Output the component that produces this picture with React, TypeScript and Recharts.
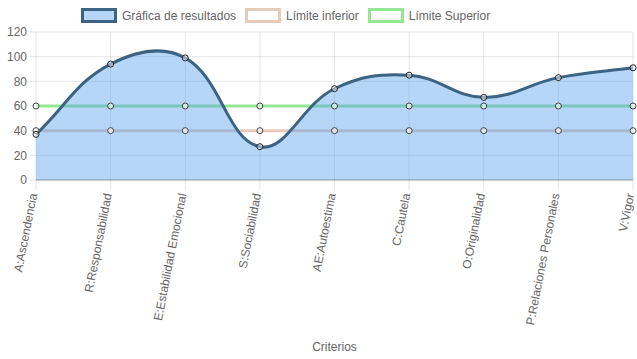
import { Area, CartesianGrid, ComposedChart, XAxis, YAxis } from "recharts";

const CATEGORIES = [
  "A:Ascendencia",
  "R:Responsabilidad",
  "E:Estabilidad Emocional",
  "S:Sociabilidad",
  "AE:Autoestima",
  "C:Cautela",
  "O:Originalidad",
  "P:Relaciones Personales",
  "V:Vigor",
];
const RESULTADOS = [37, 94, 99, 27, 74, 85, 67, 83, 91];
const LIMITE_INFERIOR = [40, 40, 40, 40, 40, 40, 40, 40, 40];
const LIMITE_SUPERIOR = [60, 60, 60, 60, 60, 60, 60, 60, 60];
const Y_TICKS = [0, 20, 40, 60, 80, 100, 120];

const FONT = '"Liberation Sans", Arial, Helvetica, sans-serif';
const TEXT = "#666";
const GRID = "rgba(0,0,0,0.1)";

const chartData = CATEGORIES.map((c, i) => ({
  criterio: c,
  resultado: RESULTADOS[i],
  inferior: LIMITE_INFERIOR[i],
  superior: LIMITE_SUPERIOR[i],
}));

const LEGEND = [
  { label: "Gráfica de resultados", fill: "rgba(91,164,236,0.45)", border: "#3d6383" },
  { label: "Límite inferior", fill: "#fff", border: "#e6cbbd" },
  { label: "Límite Superior", fill: "#fff", border: "#93e693" },
];

// chart.js style bezier (tension 0.4), so the curve overshoots like the original
function splineCurve(context: any) {
  let line = NaN;
  let pts: [number, number][] = [];
  const t = 0.4;
  return {
    areaStart() {
      line = 0;
    },
    areaEnd() {
      line = NaN;
    },
    lineStart() {
      pts = [];
    },
    point(x: number, y: number) {
      pts.push([+x, +y]);
    },
    lineEnd() {
      const n = pts.length;
      if (n) {
        if (line) context.lineTo(pts[0][0], pts[0][1]);
        else context.moveTo(pts[0][0], pts[0][1]);
        const cps = pts.map((p, i) => {
          const prev = pts[i - 1] ?? p;
          const next = pts[i + 1] ?? p;
          const d01 = Math.hypot(p[0] - prev[0], p[1] - prev[1]);
          const d12 = Math.hypot(next[0] - p[0], next[1] - p[1]);
          let s01 = d01 / (d01 + d12);
          let s12 = d12 / (d01 + d12);
          if (!isFinite(s01)) s01 = 0;
          if (!isFinite(s12)) s12 = 0;
          const fa = t * s01;
          const fb = t * s12;
          return {
            inX: p[0] - fa * (next[0] - prev[0]),
            inY: p[1] - fa * (next[1] - prev[1]),
            outX: p[0] + fb * (next[0] - prev[0]),
            outY: p[1] + fb * (next[1] - prev[1]),
          };
        });
        for (let i = 1; i < n; i++) {
          context.bezierCurveTo(cps[i - 1].outX, cps[i - 1].outY, cps[i].inX, cps[i].inY, pts[i][0], pts[i][1]);
        }
      }
      if (line || (line !== 0 && n === 1)) context.closePath();
      line = 1 - line;
    },
  };
}

function RotatedTick({ x, y, payload }: any) {
  return (
    <g transform={`translate(${x},${y + 2})`}>
      <text
        transform="rotate(-79)"
        textAnchor="end"
        dy="0.1em"
        fill={TEXT}
        fontSize={12}
        fontFamily={FONT}
      >
        {payload.value}
      </text>
    </g>
  );
}

const limitDot = { r: 3, fill: "#fff", stroke: "#444", strokeWidth: 1 };

export default function App() {
  return (
    <div style={{ position: "absolute", left: 0, top: 0, width: 637, height: 359, background: "#fff" }}>
      <div
        style={{
          position: "absolute",
          left: 81,
          top: 8,
          display: "flex",
          alignItems: "center",
          gap: 9,
          fontFamily: FONT,
          fontSize: 12,
          color: TEXT,
          whiteSpace: "nowrap",
        }}
      >
        {LEGEND.map((l) => (
          <div key={l.label} style={{ display: "flex", alignItems: "center", gap: 5 }}>
            <span
              style={{
                display: "inline-block",
                width: 30,
                height: 9,
                background: l.fill,
                border: `3px solid ${l.border}`,
              }}
            />
            <span>{l.label}</span>
          </div>
        ))}
      </div>
      <ComposedChart
        width={637}
        height={359}
        data={chartData}
        margin={{ top: 32, right: 4, bottom: 0, left: 0 }}
      >
        <CartesianGrid stroke={GRID} />
        <XAxis
          dataKey="criterio"
          scale="point"
          interval={0}
          height={179}
          tick={<RotatedTick />}
          tickSize={10}
          tickLine={{ stroke: GRID }}
          axisLine={{ stroke: "rgba(0,0,0,0.15)", strokeWidth: 2 }}
          label={{ value: "Criterios", position: "insideBottom", offset: 8, fill: TEXT, fontSize: 12, fontFamily: FONT }}
        />
        <YAxis
          domain={[0, 120]}
          ticks={Y_TICKS}
          width={36}
          tickSize={6}
          tickMargin={3}
          axisLine={false}
          tickLine={{ stroke: GRID }}
          tick={{ fill: TEXT, fontSize: 12, fontFamily: FONT }}
        />
        {/* limits drawn first so the translucent result fill sits over them */}
        <Area
          dataKey="superior"
          type="linear"
          stroke="#93e693"
          strokeWidth={3}
          fill="none"
          dot={limitDot}
          isAnimationActive={false}
        />
        <Area
          dataKey="inferior"
          type="linear"
          stroke="#e6cbbd"
          strokeWidth={3}
          fill="none"
          dot={limitDot}
          isAnimationActive={false}
        />
        <Area
          dataKey="resultado"
          type={splineCurve as any}
          stroke="#3d6383"
          strokeWidth={3}
          fill="#5ba4ec"
          fillOpacity={0.45}
          dot={{ r: 3, fill: "#fff", stroke: "#222", strokeWidth: 1 }}
          isAnimationActive={false}
        />
      </ComposedChart>
    </div>
  );
}
